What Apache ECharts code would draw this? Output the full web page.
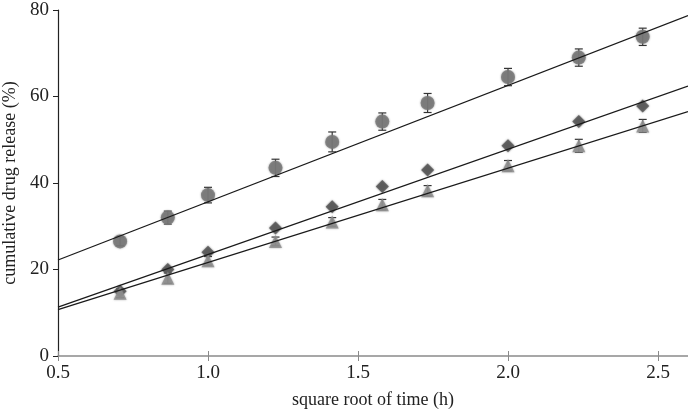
<!DOCTYPE html>
<html><head><meta charset="utf-8">
<script src="https://cdn.jsdelivr.net/npm/echarts@6/dist/echarts.min.js"></script>
<style>html,body{margin:0;padding:0;background:#fff}#c{width:688px;height:411px}</style>
</head><body><div id="c"></div>
<script>
var xValues = [0.707, 0.866, 1.0, 1.225, 1.414, 1.581, 1.732, 2.0, 2.236, 2.449];
var circleY = [26.5, 32.0, 37.2, 43.5, 49.5, 54.2, 58.5, 64.5, 69.0, 73.8];
var circleErr = [1.0, 1.5, 1.8, 2.0, 2.3, 2.0, 2.2, 2.0, 2.0, 2.0];
var diamondY = [15.0, 20.0, 24.0, 29.6, 34.5, 39.2, 43.0, 48.6, 54.2, 57.8];
var triangleY = [14.5, 18.0, 22.0, 26.5, 31.0, 35.0, 38.2, 44.0, 48.6, 53.2];
var triangleErr = [1.0, 1.2, 1.0, 1.0, 1.0, 1.2, 1.2, 1.2, 1.5, 1.5];
var fitX = [0.5, 2.6];
var circleFit = [22.2, 78.7];
var diamondFit = [11.3, 62.4];
var triangleFit = [10.7, 56.5];
var xTicks = [0.5, 1.0, 1.5, 2.0, 2.5];
var yTicks = [0, 20, 40, 60, 80];

function pairs(xs, ys){ return xs.map(function(x,i){return [x, ys[i]];}); }
function errData(ys, es){ return xValues.map(function(x,i){return [x, ys[i]-es[i], ys[i]+es[i]];}); }

function errSeries(ys, es){
  return {
    type:'custom', z:1,
    data: errData(ys, es),
    renderItem: function(params, api){
      var lo = api.coord([api.value(0), api.value(1)]);
      var hi = api.coord([api.value(0), api.value(2)]);
      var w = 4;
      var st = {stroke:'#333', lineWidth:1.2};
      return {type:'group', children:[
        {type:'line', shape:{x1:lo[0],y1:lo[1],x2:hi[0],y2:hi[1]}, style:st},
        {type:'line', shape:{x1:lo[0]-w,y1:lo[1],x2:lo[0]+w,y2:lo[1]}, style:st},
        {type:'line', shape:{x1:hi[0]-w,y1:hi[1],x2:hi[0]+w,y2:hi[1]}, style:st}
      ]};
    }
  };
}
function fitSeries(ys){
  return {type:'line', data: pairs(fitX, ys), symbol:'none', z:4,
    lineStyle:{color:'#1a1a1a', width:1.3}, silent:true};
}
function scatter(ys, sym, size, color){
  return {type:'scatter', data: pairs(xValues, ys), symbol: sym, symbolSize: size, z:2,
    itemStyle:{color: color, shadowBlur:2, shadowColor: color}};
}

var chart = echarts.init(document.getElementById('c'));
var font = '"Liberation Serif", "DejaVu Serif", serif';
chart.setOption({
  animation:false,
  grid:{left:58, right:0, top:10, bottom:55, containLabel:false, outerBoundsMode:'none'},
  xAxis:[{
    type:'value', min:0.5, max:2.6, interval:0.5,
    axisLine:{lineStyle:{color:'#8a8a8a', width:1.5}},
    axisTick:{show:true, length:5, lineStyle:{color:'#8a8a8a'}},
    splitLine:{show:false},
    axisLabel:{color:'#222', fontFamily:font, fontSize:19, margin:8, showMaxLabel:false,
      formatter:function(v){ return xTicks.indexOf(+v.toFixed(2))>=0 ? v.toFixed(1) : ''; }},
    name:'square root of time (h)', nameLocation:'middle', nameGap:35,
    nameTextStyle:{color:'#222', fontFamily:font, fontSize:18}
  },{
    type:'value', min:0.5, max:2.6, interval:0.5, position:'bottom',
    axisLine:{show:false},
    axisTick:{show:true, inside:true, length:5, lineStyle:{color:'#8a8a8a'}},
    axisLabel:{show:false}, splitLine:{show:false}
  }],
  yAxis:{
    type:'value', min:0, max:80, interval:20,
    axisLine:{show:true, lineStyle:{color:'#222', width:1.2}},
    axisTick:{show:true, length:5, lineStyle:{color:'#222'}},
    splitLine:{show:false},
    axisLabel:{color:'#222', fontFamily:font, fontSize:19, margin:9,
      formatter:function(v){ return yTicks.indexOf(v)>=0 ? String(v) : ''; }},
    name:'cumulative drug release (%)', nameLocation:'middle', nameGap:32, nameRotate:90,
    nameTextStyle:{color:'#222', fontFamily:font, fontSize:18}
  },
  series:[
    scatter(circleY, 'circle', 14, '#757575'),
    scatter(diamondY, 'diamond', 13, '#555555'),
    scatter(triangleY, 'triangle', 13, '#8c8c8c'),
    errSeries(circleY, circleErr),
    errSeries(triangleY, triangleErr),
    fitSeries(circleFit),
    fitSeries(diamondFit),
    fitSeries(triangleFit)
  ]
});
</script></body></html>
